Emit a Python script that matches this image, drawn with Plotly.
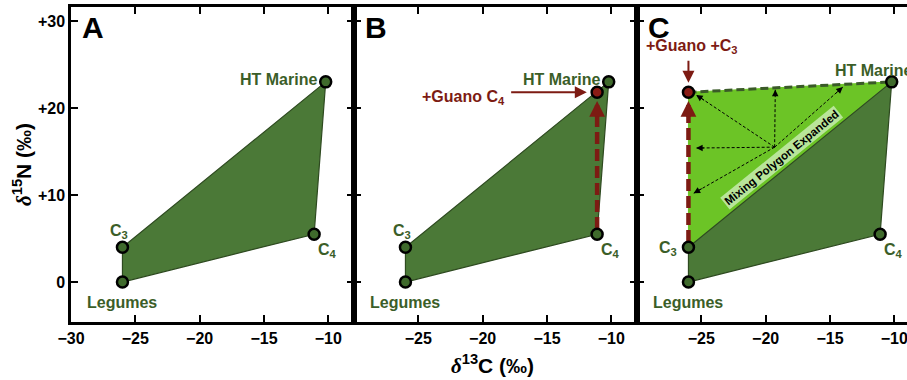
import plotly.graph_objects as go

# ---------------- data ----------------
source_names = ["Legumes", "C3", "C4", "HT Marine"]
source_d13c = [-26.0, -26.0, -11.1, -10.2]
source_d15n = [0.0, 4.0, 5.5, 23.0]

guano_c4 = (-11.1, 21.8)   # panel B
guano_c3 = (-26.0, 21.8)   # panel C

mix_origin = (-19.3, 15.5)
mix_ends_x = [-25.4, -19.25, -14.0, -25.4, -25.6]
mix_ends_y = [21.5, 22.1, 22.4, 15.4, 10.2]

xtick_vals_a = [-30, -25, -20, -15, -10]
xtick_vals_bc = [-25, -20, -15, -10]
ytick_vals = [0, 10, 20, 30]
ytick_text = ["0", "+10", "+20", "+30"]

# ---------------- style ----------------
FONT = "Liberation Sans, Arial, sans-serif"
DARK = "#4b7937"
DARK_LINE = "#2e4a20"
LIGHT = "#6cc426"
LABEL_G = "#3b5e28"
RED = "#7d1b13"
PT_G = "#3f6a2c"
PT_R = "#8a1c15"

W, H = 907, 380
px_unit = 283 / 22.0
x_ranges = [[-30, -8], [-30, -8], [-30, -30 + (W - 637) / px_unit]]
x_domains = [[71 / W, 354 / W], [354 / W, 637 / W], [637 / W, 1.0]]
y_range = [-4.55, 31.6]
y_domain = [(H - 321.7) / H, (H - 7) / H]

fig = go.Figure()

poly_order = [0, 2, 3, 1, 0]  # Legumes, C4, HT Marine, C3
px_poly = [source_d13c[i] for i in poly_order]
py_poly = [source_d15n[i] for i in poly_order]

annotations = []

def ax(i, kind):
    return f"{kind}{'' if i == 0 else i + 1}"

LBL = 16
for p in range(3):
    xr, yr = ax(p, "x"), ax(p, "y")
    if p == 2:
        fig.add_trace(go.Scatter(
            x=[source_d13c[1], guano_c3[0], source_d13c[3], source_d13c[1]],
            y=[source_d15n[1], guano_c3[1], source_d15n[3], source_d15n[1]],
            fill="toself", fillcolor=LIGHT, line=dict(color=LIGHT, width=1),
            mode="lines", xaxis=xr, yaxis=yr, hoverinfo="skip", showlegend=False))
    fig.add_trace(go.Scatter(
        x=px_poly, y=py_poly, fill="toself", fillcolor=DARK,
        line=dict(color=DARK_LINE, width=1.2), mode="lines",
        xaxis=xr, yaxis=yr, hoverinfo="skip", showlegend=False))

    if p == 1:
        fig.add_trace(go.Scatter(
            x=[source_d13c[2], guano_c4[0]], y=[source_d15n[2] + 0.6, guano_c4[1] - 2.6],
            mode="lines", line=dict(color=RED, width=4.5, dash="12px,5px"),
            xaxis=xr, yaxis=yr, hoverinfo="skip", showlegend=False))
        annotations.append(dict(x=guano_c4[0], y=guano_c4[1] - 1.0, ax=guano_c4[0], ay=guano_c4[1] - 3.0,
                                xref=xr, yref=yr, axref=xr, ayref=yr, text="", showarrow=True,
                                arrowhead=2, arrowsize=0.7, arrowwidth=4.5, arrowcolor=RED))
        annotations.append(dict(x=-11.9, y=guano_c4[1], ax=-17.9, ay=guano_c4[1],
                                xref=xr, yref=yr, axref=xr, ayref=yr, text="", showarrow=True,
                                arrowhead=2, arrowsize=1.2, arrowwidth=2, arrowcolor=RED))
        annotations.append(dict(x=-18.1, y=21.2, xref=xr, yref=yr, text="+Guano C<sub>4</sub>",
                                showarrow=False, xanchor="right", yanchor="middle",
                                font=dict(family=FONT, size=LBL, color=RED, weight="bold")))
    if p == 2:
        for ex, ey in zip(mix_ends_x, mix_ends_y):
            fig.add_trace(go.Scatter(
                x=[mix_origin[0], ex], y=[mix_origin[1], ey], mode="lines",
                line=dict(color="black", width=1, dash="3px,2px"),
                xaxis=xr, yaxis=yr, hoverinfo="skip", showlegend=False))
            tx = ex - 0.12 * (ex - mix_origin[0])
            ty = ey - 0.12 * (ey - mix_origin[1])
            annotations.append(dict(x=ex, y=ey, ax=tx, ay=ty, xref=xr, yref=yr, axref=xr, ayref=yr,
                                    text="", showarrow=True, arrowhead=2, arrowsize=1.3,
                                    arrowwidth=1, arrowcolor="black"))
        fig.add_trace(go.Scatter(
            x=[source_d13c[1], guano_c3[0]], y=[source_d15n[1] + 0.6, guano_c3[1] - 2.6],
            mode="lines", line=dict(color=RED, width=4.5, dash="12px,5px"),
            xaxis=xr, yaxis=yr, hoverinfo="skip", showlegend=False))
        annotations.append(dict(x=guano_c3[0], y=guano_c3[1] - 1.0, ax=guano_c3[0], ay=guano_c3[1] - 3.0,
                                xref=xr, yref=yr, axref=xr, ayref=yr, text="", showarrow=True,
                                arrowhead=2, arrowsize=0.7, arrowwidth=4.5, arrowcolor=RED))
        fig.add_trace(go.Scatter(
            x=[guano_c3[0], source_d13c[3]], y=[guano_c3[1], source_d15n[3]], mode="lines",
            line=dict(color="#3a5a28", width=3, dash="8px,4px"),
            xaxis=xr, yaxis=yr, hoverinfo="skip", showlegend=False))
        annotations.append(dict(x=guano_c3[0], y=22.9, ax=guano_c3[0], ay=25.6,
                                xref=xr, yref=yr, axref=xr, ayref=yr, text="", showarrow=True,
                                arrowhead=2, arrowsize=1.2, arrowwidth=2, arrowcolor=RED))
        annotations.append(dict(x=-25.7, y=27.1, xref=xr, yref=yr, text="+Guano +C<sub>3</sub>",
                                showarrow=False, xanchor="center", yanchor="middle",
                                font=dict(family=FONT, size=LBL, color=RED, weight="bold")))
        annotations.append(dict(x=-18.8, y=14.3, xref=xr, yref=yr, text="Mixing Polygon Expanded",
                                showarrow=False, textangle=-39, bgcolor="#b9e59a", borderpad=1,
                                font=dict(family=FONT, size=11.5, color="black", weight="bold")))

    fig.add_trace(go.Scatter(
        x=source_d13c, y=source_d15n, mode="markers",
        marker=dict(size=11, color=PT_G, line=dict(color="black", width=2.5)),
        xaxis=xr, yaxis=yr, hoverinfo="skip", showlegend=False))
    if p == 1:
        fig.add_trace(go.Scatter(
            x=[guano_c4[0]], y=[guano_c4[1]], mode="markers",
            marker=dict(size=11, color=PT_R, line=dict(color="black", width=2.5)),
            xaxis=xr, yaxis=yr, hoverinfo="skip", showlegend=False))
    if p == 2:
        fig.add_trace(go.Scatter(
            x=[guano_c3[0]], y=[guano_c3[1]], mode="markers",
            marker=dict(size=11, color=PT_R, line=dict(color="black", width=2.5)),
            xaxis=xr, yaxis=yr, hoverinfo="skip", showlegend=False))

    lf = dict(family=FONT, size=LBL, color=LABEL_G, weight="bold")
    annotations.append(dict(x=-26.0, y=-2.3, xref=xr, yref=yr, text="Legumes", showarrow=False, font=lf))
    if p < 2:
        annotations.append(dict(x=-26.3, y=5.8, xref=xr, yref=yr, text="C<sub>3</sub>", showarrow=False, font=lf))
    else:
        annotations.append(dict(x=-27.6, y=3.9, xref=xr, yref=yr, text="C<sub>3</sub>", showarrow=False, font=lf))
    annotations.append(dict(x=-10.06, y=3.6, xref=xr, yref=yr, text="C<sub>4</sub>", showarrow=False, font=lf))
    if p < 2:
        annotations.append(dict(x=-10.75, y=23.3, xref=xr, yref=yr, text="HT Marine", showarrow=False,
                                xanchor="right", font=lf))
    else:
        annotations.append(dict(x=-14.75, y=24.3, xref=xr, yref=yr, text="HT Marine", showarrow=False,
                                xanchor="left", font=lf))
    annotations.append(dict(x=-29.3, y=29.3, xref=xr, yref=yr, text="ABC"[p], showarrow=False,
                            xanchor="left", font=dict(family=FONT, size=30, color="black", weight="bold")))

    tv = xtick_vals_a if p == 0 else xtick_vals_bc
    xa = dict(domain=x_domains[p], range=x_ranges[p], showgrid=False, zeroline=False,
              showline=True, linecolor="black", linewidth=2.5, mirror="ticks",
              ticks="inside", ticklen=7, tickwidth=2, tickcolor="black",
              tickvals=tv, ticktext=[f"\u2212{abs(v)}" for v in tv],
              tickfont=dict(family=FONT, size=16, color="black", weight="bold"),
              ticklabeloverflow="allow",
              anchor=yr, fixedrange=True, automargin=False)
    ya = dict(domain=y_domain, range=y_range, showgrid=False, zeroline=False,
              showline=True, linecolor="black", linewidth=2.5, mirror="ticks" if p < 2 else False,
              ticks="inside", ticklen=7, tickwidth=2, tickcolor="black",
              tickvals=ytick_vals, ticktext=ytick_text, showticklabels=(p == 0),
              tickfont=dict(family=FONT, size=16, color="black", weight="bold"),
              ticklabeloverflow="allow",
              anchor=xr, fixedrange=True, automargin=False)
    fig.layout[("xaxis" if p == 0 else f"xaxis{p+1}")] = xa
    fig.layout[("yaxis" if p == 0 else f"yaxis{p+1}")] = ya

annotations.append(dict(x=492 / W, y=(H - 364) / H, xref="paper", yref="paper", showarrow=False,
                        xanchor="center", yanchor="middle",
                        text='<span style="font-family:Liberation Serif"><i>δ</i></span><sup>13</sup>C (‰)',
                        font=dict(family=FONT, size=21, color="black", weight="bold")))
annotations.append(dict(x=22 / W, y=(H - 165) / H, xref="paper", yref="paper", showarrow=False,
                        textangle=-90, xanchor="center", yanchor="middle",
                        text='<span style="font-family:Liberation Serif"><i>δ</i></span><sup>15</sup>N (‰)',
                        font=dict(family=FONT, size=21, color="black", weight="bold")))

fig.update_layout(width=W, height=H, margin=dict(l=0, r=0, t=0, b=0, autoexpand=False),
                  paper_bgcolor="white", plot_bgcolor="white",
                  annotations=annotations, showlegend=False)

fig.write_html("out.html")
